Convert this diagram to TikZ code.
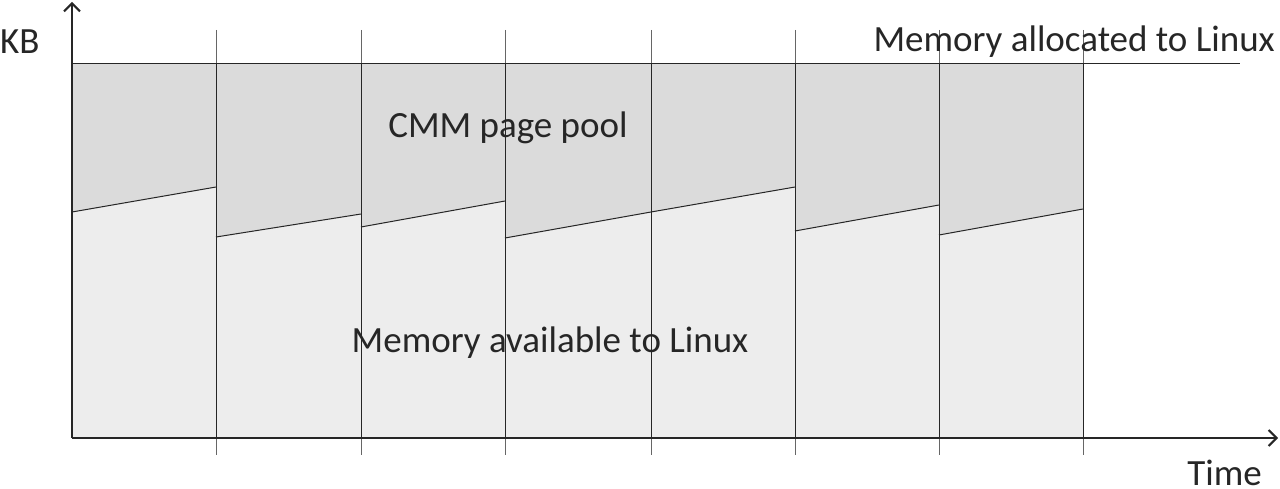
\documentclass[tikz,border=0pt]{standalone}
\usetikzlibrary{arrows.meta}
\usepackage{fontspec}
\setmainfont{Carlito}
\begin{document}
\begin{tikzpicture}[x=1pt,y=-1pt,
  lbl/.style={font=\fontsize{37}{40}\selectfont, text=black!85, inner sep=0},
  grid/.style={draw=black!60, line width=0.5pt},
  edge/.style={draw=black!85, line width=1pt}]
\useasboundingbox (0,0) rectangle (1280,489);
\def\xs{{72,216,361,505,651,795,939,1083}}
\def\ya{{212,237,227,238,212,231,235}}
\def\yb{{187,214,201,212,187,205,209}}
\foreach \i in {0,...,6}{
  \pgfmathsetmacro\xl{\xs[\i]}\pgfmathsetmacro\xr{\xs[\i+1]}
  \pgfmathsetmacro\yl{\ya[\i]}\pgfmathsetmacro\yr{\yb[\i]}
  \fill[black!14] (\xl,64) rectangle (\xr,438);
  \fill[black!7] (\xl,\yl) -- (\xr,\yr) -- (\xr,438) -- (\xl,438) -- cycle;
  \draw[edge] (\xl,\yl) -- (\xr,\yr);
}
\foreach \x in {216,361,505,651,795,939,1083}{
  \draw[grid] (\x,30) -- (\x,455);
  \draw[edge] (\x,64) -- (\x,438);
}
\draw[edge] (72,64) -- (1240,64);
\coordinate (o) at (72,438);
\coordinate (ytop) at (72,2);
\coordinate (xend) at (1278,438);
\draw[edge,line width=1.6pt,-{Straight Barb[length=8pt,width=16pt,line width=2pt]}] (o) -- (ytop);
\draw[edge,line width=1.6pt,-{Straight Barb[length=8pt,width=16pt,line width=2pt]}] (o) -- (xend);
\node[lbl,anchor=west] (kb) at (0,42) {KB};
\node[lbl,anchor=east] (time) at (1262,473) {Time};
\node[lbl] (cmm) at (508,128) {CMM page pool};
\node[lbl] (avail) at (550,343) {Memory available to Linux};
\node[lbl,anchor=east] (alloc) at (1275,42) {Memory allocated to Linux};
\end{tikzpicture}
\end{document}
